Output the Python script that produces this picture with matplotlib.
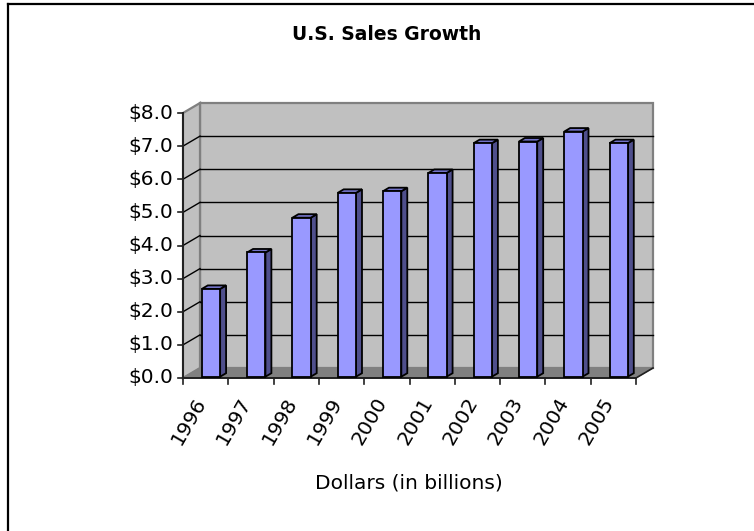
import matplotlib
matplotlib.use("Agg")
import matplotlib.pyplot as plt
from matplotlib.patches import Polygon
from matplotlib.lines import Line2D

# Sales data (billions of dollars)
years = ["1996", "1997", "1998", "1999", "2000", "2001", "2002", "2003", "2004", "2005"]
sales = [2.65, 3.75, 4.8, 5.55, 5.6, 6.15, 7.05, 7.1, 7.4, 7.05]
y_ticks = [0, 1, 2, 3, 4, 5, 6, 7, 8]
y_tick_labels = ["$%.1f" % v for v in y_ticks]
title = "U.S. Sales Growth"
x_title = "Dollars (in billions)"

W, H = 754, 531
fig = plt.figure(figsize=(W / 100, H / 100), dpi=100)
fig.patch.set_facecolor("white")

# front plane of the 3-D box in pixels
left_px, right_px, base_px, top_px = 183, 636, 378, 113
ax = fig.add_axes([left_px / W, 1 - base_px / H, (right_px - left_px) / W, (base_px - top_px) / H])
n = len(years)
ax.set_xlim(0, n)
ax.set_ylim(0, 8)
ax.axis("off")

# pixel size in data units, and full depth of the box
PX = n / (right_px - left_px)
PY = 8 / (base_px - top_px)
DX, DY = 17 * PX, 10 * PY


def P(x, y, d=0.0):
    return (x + d * DX, y + d * DY)


wall_c = "#c0c0c0"
floor_c = "#808080"
edge_c = "#808080"

# back wall
ax.add_patch(Polygon([P(0, 0, 1), P(n, 0, 1), P(n, 8, 1), P(0, 8, 1)], closed=True,
                     facecolor=wall_c, edgecolor=edge_c, lw=1.6, clip_on=False, zorder=1))
# side wall
ax.add_patch(Polygon([P(0, 0, 0), P(0, 0, 1), P(0, 8, 1), P(0, 8, 0)], closed=True,
                     facecolor=wall_c, edgecolor=edge_c, lw=1.6, clip_on=False, zorder=1))
# floor
ax.add_patch(Polygon([P(0, 0, 0), P(n, 0, 0), P(n, 0, 1), P(0, 0, 1)], closed=True,
                     facecolor=floor_c, edgecolor=floor_c, lw=0.8, clip_on=False, zorder=1.5))

# gridlines on back and side walls
for v in y_ticks[1:-1]:
    ax.add_line(Line2D([P(0, v, 1)[0], P(n, v, 1)[0]], [P(0, v, 1)[1], P(n, v, 1)[1]],
                       color="black", lw=1.0, zorder=2, clip_on=False))
    ax.add_line(Line2D([P(0, v, 0)[0], P(0, v, 1)[0]], [P(0, v, 0)[1], P(0, v, 1)[1]],
                       color="black", lw=1.0, zorder=2, clip_on=False))

# axes lines
ax.add_line(Line2D([0, 0], [0, 8], color="#202020", lw=1.4, zorder=2.5, clip_on=False))
ax.add_line(Line2D([0, n], [0, 0], color="#202020", lw=1.4, zorder=2.5, clip_on=False))
ax.add_line(Line2D([P(n, 0, 0)[0], P(n, 0, 1)[0]], [P(n, 0, 0)[1], P(n, 0, 1)[1]],
                   color="#202020", lw=1.2, zorder=2.5, clip_on=False))
for v in y_ticks:
    ax.add_line(Line2D([-5 * PX, 0], [v, v], color="#202020", lw=1.2, zorder=2.5, clip_on=False))
for i in range(n + 1):
    ax.add_line(Line2D([i, i], [0, -6 * PY], color="#202020", lw=1.2, zorder=2.5, clip_on=False))

# 3-D columns
bar_d0, bar_dd = 0.13, 0.35
bar_off, bar_w = 0.367, 0.404
front_c, side_c, top_c = "#9999ff", "#4f4f8c", "#7373c8"
for i, v in enumerate(sales):
    x0 = i + bar_off
    x1 = x0 + bar_w
    d0, d1 = bar_d0, bar_d0 + bar_dd
    front = [P(x0, 0, d0), P(x1, 0, d0), P(x1, v, d0), P(x0, v, d0)]
    side = [P(x1, 0, d0), P(x1, 0, d1), P(x1, v, d1), P(x1, v, d0)]
    top = [P(x0, v, d0), P(x1, v, d0), P(x1, v, d1), P(x0, v, d1)]
    for poly, c in ((side, side_c), (top, top_c), (front, front_c)):
        ax.add_patch(Polygon(poly, closed=True, facecolor=c, edgecolor="black",
                             lw=1.3, joinstyle="miter", clip_on=False, zorder=3))

font = "DejaVu Sans"
for v, lab in zip(y_ticks, y_tick_labels):
    ax.text(-10 * PX, v, lab, ha="right", va="center", fontsize=14.5,
            family=font, color="black", clip_on=False)

for i, lab in enumerate(years):
    ax.text(i + 0.5 - 4 * PX, -21 * PY, lab, ha="right", va="center", rotation=60,
            rotation_mode="anchor", fontsize=14.5, family=font, color="black", clip_on=False)

fig.text(387 / W, 1 - 34 / H, title, ha="center", va="center", fontsize=13.5,
         fontweight="bold", family=font)
fig.text(409 / W, 1 - 483 / H, x_title, ha="center", va="center", fontsize=14.5, family=font)

# outer chart border (left and top edges)
fig.add_artist(Line2D([7.7 / W, 7.7 / W], [0, 1 - 3.7 / H], transform=fig.transFigure,
                      color="black", lw=1.6))
fig.add_artist(Line2D([7.7 / W, 1], [1 - 3.7 / H, 1 - 3.7 / H], transform=fig.transFigure,
                      color="black", lw=1.6))

fig.savefig("out.png", dpi=100, facecolor="white")
